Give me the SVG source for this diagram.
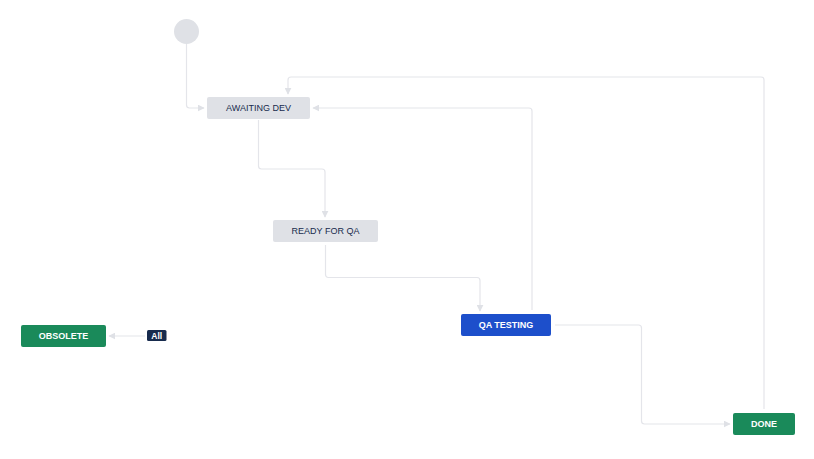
<svg xmlns="http://www.w3.org/2000/svg" width="814" height="459" viewBox="0 0 814 459">
<defs>
<style>
.edge{fill:none;stroke:#E4E5EA;stroke-width:1.2}
.lbl{font-family:"Liberation Sans",Arial,sans-serif;font-size:9px;text-anchor:middle;dominant-baseline:central}
.grey rect{fill:#DFE1E6}
.grey text{fill:#172B4D}
.blue rect{fill:#1D4FCB}
.green rect{fill:#1A8A5A}
.blue text,.green text{fill:#FFFFFF;font-weight:bold}
</style>
<marker id="arr" viewBox="0 0 10 10" refX="9" refY="5" markerWidth="7" markerHeight="7" orient="auto" markerUnits="userSpaceOnUse">
<path d="M0,0 L10,5 L0,10 z" fill="#DFE1E6"/>
</marker>
</defs>
<rect width="814" height="459" fill="#FFFFFF"/>
<g id="connectors">
<path class="edge" marker-end="url(#arr)" d="M186.5,44 V105 Q186.5,108 189.5,108 H204"/>
<path class="edge" marker-end="url(#arr)" d="M258.5,120 V166 Q258.5,169 261.5,169 H322 Q325,169 325,172 V217"/>
<path class="edge" marker-end="url(#arr)" d="M325.5,245 V274 Q325.5,277.5 328.5,277.5 H477 Q480,277.5 480,280.5 V311"/>
<path class="edge" marker-end="url(#arr)" d="M532,310 V111 Q532,108 529,108 H313"/>
<path class="edge" marker-end="url(#arr)" d="M764,409 V80 Q764,77 761,77 H291 Q288,77 288,80 V94"/>
<path class="edge" marker-end="url(#arr)" d="M555,325 H638.5 Q641.5,325 641.5,328 V421 Q641.5,424 644.5,424 H730"/>
<path class="edge" marker-end="url(#arr)" d="M145,336 H109"/>
</g>
<g id="start"><circle cx="186.5" cy="31.5" r="12.5" fill="#DFE1E6"/></g>
<g id="awaiting-dev" class="grey"><rect x="207" y="97" width="103" height="22" rx="2"/><text class="lbl" x="258.5" y="108">AWAITING DEV</text></g>
<g id="ready-for-qa" class="grey"><rect x="273" y="220" width="105" height="22" rx="2"/><text class="lbl" x="325.5" y="231">READY FOR QA</text></g>
<g id="qa-testing" class="blue"><rect x="461" y="314" width="90" height="22" rx="2"/><text class="lbl" x="506" y="325">QA TESTING</text></g>
<g id="done" class="green"><rect x="733" y="413" width="62" height="22" rx="2"/><text class="lbl" x="764" y="424">DONE</text></g>
<g id="obsolete" class="green"><rect x="21" y="325" width="85" height="22" rx="2"/><text class="lbl" x="63.5" y="336">OBSOLETE</text></g>
<g id="all"><rect x="147" y="330" width="19.5" height="11" rx="1.5" fill="#172B4D"/><text x="156.7" y="335.7" font-family="'Liberation Sans',Arial,sans-serif" font-size="8.5" font-weight="bold" fill="#FFFFFF" text-anchor="middle" dominant-baseline="central">All</text></g>
</svg>
